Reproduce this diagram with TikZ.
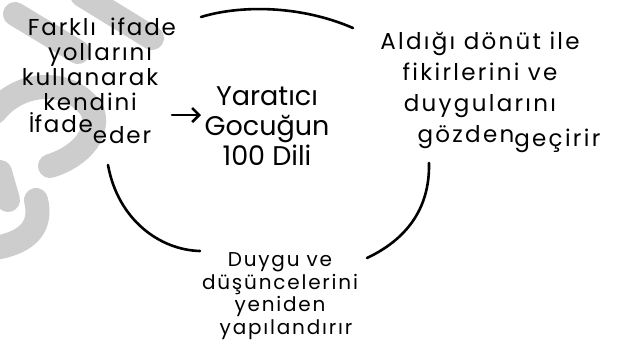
\documentclass[tikz,border=0pt]{standalone}
\usepackage{fontspec}
\setmainfont{Poppins}
\newfontfamily\handfont[LetterSpace=8]{Poppins}
\newfontfamily\handfontr[LetterSpace=10]{Poppins}
\newfontfamily\handfontb[LetterSpace=9]{Poppins}
\usetikzlibrary{arrows.meta}
\definecolor{wm}{HTML}{CDCDCD}
\tikzset{
  wmark/.style={draw=wm, line width=24pt, line cap=round, line join=round},
  stroke/.style={draw=black, line width=2.6pt, line cap=round},
  hand/.style={align=center, inner sep=0pt, text=black},
}
\begin{document}
\begin{tikzpicture}[x=1pt,y=-1pt]
\useasboundingbox[fill=white] (0,0) rectangle (622,349);
% watermark
\draw[wmark] (15,14) -- (78,52);
\draw[wmark] (82,-5) -- (152,38);
\draw[wmark] (-5,112) .. controls (20,80) and (70,78) .. (92,110) .. controls (100,130) and (85,155) .. (50,166);
\draw[wmark] (0,172) -- (8,200);
\draw[wmark] (36,200) .. controls (42,225) and (30,242) .. (-5,248);
% texts
\node[hand, font=\handfont\fontsize{23}{25}\selectfont] (left) at (90,75)
  {\hspace{24pt}Farklı\hspace{14pt}ifade\\\hspace{20pt}yollarını\\kullanarak\\kendini\hspace{22pt}\\[-3pt]\smash{İ}fade\smash{\raisebox{-11pt}{eder}}\hspace{14pt}};
\node[hand, font=\fontsize{27}{30}\selectfont] (center) at (267,126)
  {Yaratıcı\\Gocuğun\\100 Dili};
\node[hand, font=\handfontr\fontsize{23}{31}\selectfont] (right) at (480,92)
  {Aldığı dönüt ile\\fikirlerini ve\\duygularını\\\hspace{58pt}gözden\raisebox{-4pt}{geçirir}};
\node[hand, font=\handfontb\fontsize{20}{22.5}\selectfont] (bottom) at (280,296)
  {Duygu ve\hspace{12pt}\\düşüncelerini\\yeniden\\\hspace{12pt}yapılandırır};
% connectors
\coordinate (arrS) at (172,115);
\coordinate (arrE) at (201,115);
\draw[stroke, -{Straight Barb[length=7pt,width=14pt]}] (arrS) -- (arrE);
\coordinate (t1) at (201,17);
\coordinate (t2) at (353,28);
\draw[stroke] (t1) .. controls (240,5) and (300,5) .. (t2);
\coordinate (r1) at (429,163);
\coordinate (r2) at (367,258);
\draw[stroke] (r1) .. controls (430,210) and (405,240) .. (r2);
\coordinate (l1) at (108,165);
\coordinate (l2) at (200,251);
\draw[stroke] (l1) .. controls (118,220) and (160,250) .. (l2);
\end{tikzpicture}
\end{document}
